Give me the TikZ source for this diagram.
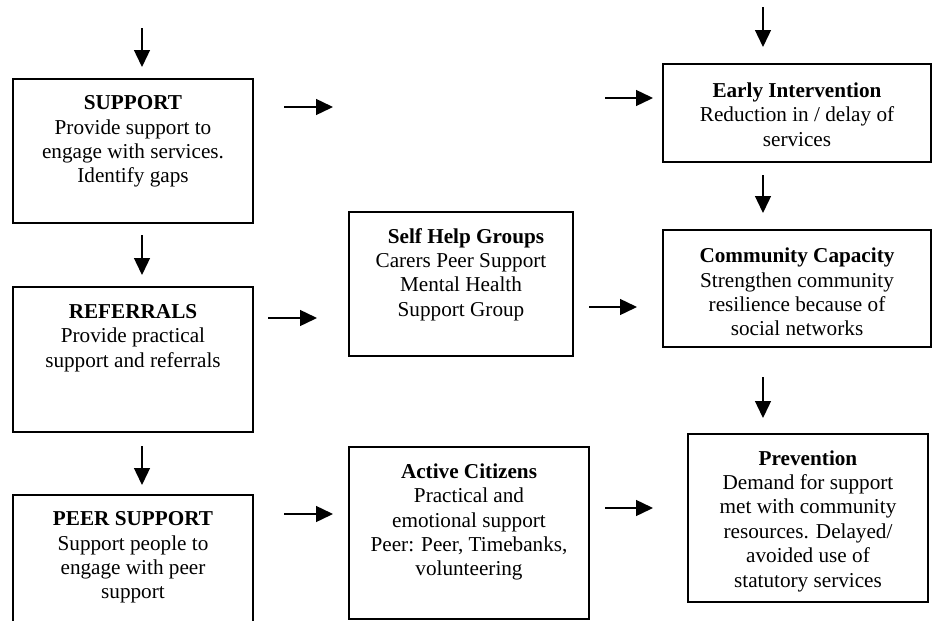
\documentclass[tikz,border=0pt]{standalone}
\usepackage{fontspec}
\setmainfont{Liberation Serif}
\usetikzlibrary{arrows.meta}
\tikzset{
  box/.style={line width=1pt},
  txt/.style={align=center, inner sep=0pt, font=\fontsize{10.6}{12.2}\selectfont},
  flow/.style={line width=0.7pt, -{Triangle[length=8.5pt,width=8pt]}}
}
\begin{document}
\begin{tikzpicture}[x=0.5pt, y=-0.5pt]
  \useasboundingbox (0,0) rectangle (932,621);
  % boxes
  \draw[box] (13,79) rectangle (253,223)
             (13,287) rectangle (253,432)
             (13,621) -- (13,495) -- (253,495) -- (253,621)
             (349,212) rectangle (573,356)
             (349,447) rectangle (589,619)
             (663,64) rectangle (931,162)
             (663,230) rectangle (931,347)
             (688,434) rectangle (928,602);
  % texts
  \node[txt] (sup) at (133,141.5) {\textbf{SUPPORT}\\Provide support to\\engage with services.\\Identify gaps};
  \node[txt] (ref) at (133,338) {\textbf{REFERRALS}\\Provide practical\\support and referrals};
  \node[txt] (peer) at (133,557.5) {\textbf{PEER SUPPORT}\\Support people to\\engage with peer\\support};
  \node[txt] (shg) at (461,274.5) {\hspace*{5pt}\textbf{Self Help Groups}\\Carers Peer Support\\Mental Health\\Support Group};
  \node[txt] (act) at (469,522) {\textbf{Active Citizens}\\Practical and\\emotional support\\Peer: Peer, Timebanks,\\volunteering};
  \node[txt] (early) at (797,114.5) {\textbf{Early Intervention}\\Reduction in / delay of\\services};
  \node[txt] (comm) at (797,292) {\textbf{Community Capacity}\\Strengthen community\\resilience because of\\social networks};
  \node[txt] (prev) at (808,521) {\textbf{Prevention}\\Demand for support\\met with community\\resources. Delayed/\\avoided use of\\statutory services};
  % arrow ends
  \coordinate (t1) at (142,28);  \coordinate (h1) at (142,67);
  \coordinate (t2) at (142,235); \coordinate (h2) at (142,275);
  \coordinate (t3) at (142,446); \coordinate (h3) at (142,485);
  \coordinate (t4) at (284,107); \coordinate (h4) at (333,107);
  \coordinate (t5) at (268,318); \coordinate (h5) at (317,318);
  \coordinate (t6) at (284,514); \coordinate (h6) at (333,514);
  \coordinate (t7) at (605,98);  \coordinate (h7) at (653,98);
  \coordinate (t8) at (589,307); \coordinate (h8) at (637,307);
  \coordinate (t9) at (605,508); \coordinate (h9) at (653,508);
  \coordinate (t10) at (763,7);   \coordinate (h10) at (763,47);
  \coordinate (t11) at (763,175); \coordinate (h11) at (763,213);
  \coordinate (t12) at (763,377); \coordinate (h12) at (763,418);
  \draw[flow] (t1) -- (h1);
  \draw[flow] (t2) -- (h2);
  \draw[flow] (t3) -- (h3);
  \draw[flow] (t4) -- (h4);
  \draw[flow] (t5) -- (h5);
  \draw[flow] (t6) -- (h6);
  \draw[flow] (t7) -- (h7);
  \draw[flow] (t8) -- (h8);
  \draw[flow] (t9) -- (h9);
  \draw[flow] (t10) -- (h10);
  \draw[flow] (t11) -- (h11);
  \draw[flow] (t12) -- (h12);
\end{tikzpicture}
\end{document}
